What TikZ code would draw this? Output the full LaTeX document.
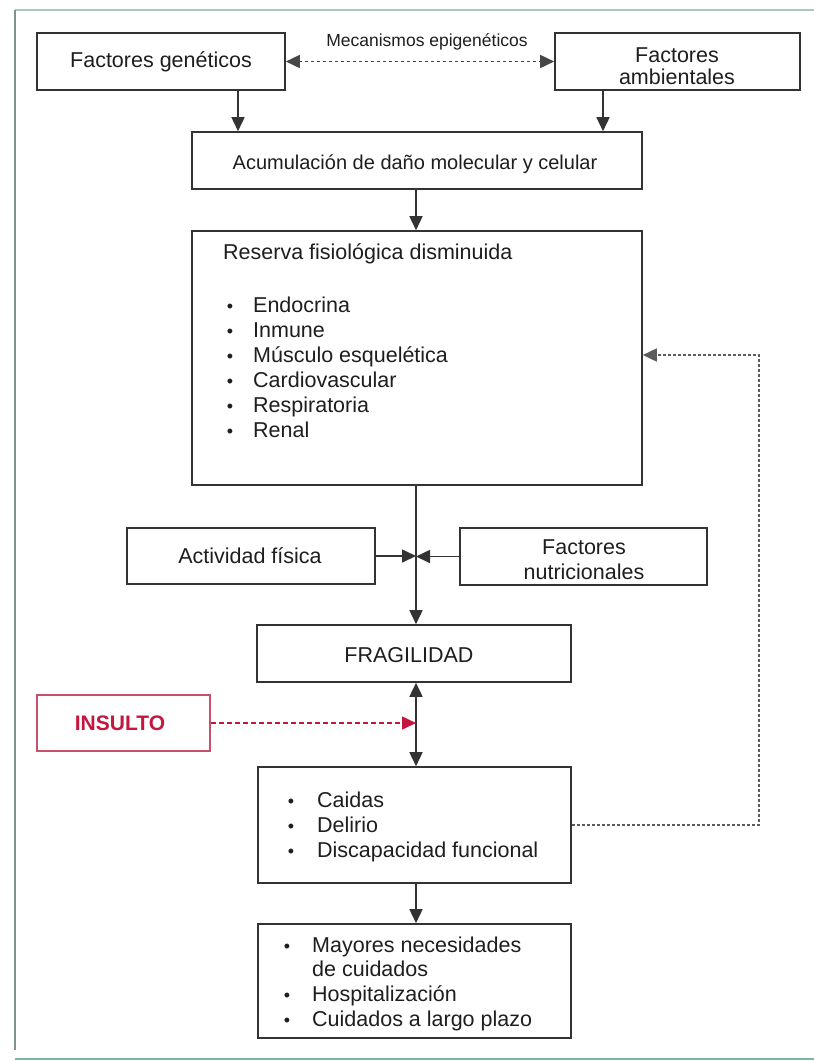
\documentclass[tikz,border=0pt]{standalone}
\usepackage{fontspec}
\setmainfont{Liberation Sans}
\usetikzlibrary{arrows.meta}
\definecolor{ink}{HTML}{1E1E1E}
\definecolor{boxline}{HTML}{333333}
\definecolor{insred}{HTML}{C4163E}
\definecolor{insborder}{HTML}{C8506A}
\definecolor{frametop}{HTML}{A9C9BD}
\definecolor{frameleft}{HTML}{7F938D}
\definecolor{framebot}{HTML}{80B5A3}
\tikzset{
  box/.style={draw=boxline, line width=1.6pt, inner sep=0pt, text=ink, align=center,
              font=\fontsize{21.5}{22}\selectfont},
  txt/.style={inner sep=0pt, text=ink, font=\fontsize{21.5}{25}\selectfont},
  bul/.style={inner sep=0pt, text=ink, anchor=base, font=\fontsize{18}{18}\selectfont},
  arr/.style={draw=boxline, line width=1.6pt, -{Triangle[length=14pt,width=13pt]}},
  arrboth/.style={draw=boxline, line width=1.6pt, {Triangle[length=14pt,width=13pt]}-{Triangle[length=14pt,width=13pt]}},
  dotarr/.style={draw=boxline!90, line width=1.6pt, dash pattern=on 3pt off 3pt,
                 {Triangle[length=14pt,width=13pt]}-{Triangle[length=14pt,width=13pt]}},
  fbarr/.style={draw=boxline!80, line width=1.6pt, dash pattern=on 3pt off 2pt,
                -{Triangle[length=14pt,width=13pt]}},
  insarr/.style={draw=insred, line width=1.5pt, dash pattern=on 5pt off 3pt,
                 -{Triangle[length=14pt,width=13pt]}},
}
\begin{document}
\begin{tikzpicture}[x=1pt,y=-1pt]
\useasboundingbox (0,0) rectangle (814,1061);
\fill[white] (0,0) rectangle (814,1061);
% outer frame
\draw[frametop, line width=1.8pt] (15,10) -- (814,10);
\draw[frameleft, line width=2pt] (15,10) -- (15,1050);
\draw[framebot, line width=2.5pt] (15,1059) -- (814,1059);

% boxes
\node[box, minimum width=248pt, minimum height=57pt] (gen) at (161,61.5) {};
\node[txt] (gentxt) at (161,62) {Factores genéticos};
\node[box, minimum width=245pt, minimum height=57pt] (amb) at (677.5,61.5) {};
\node[txt, align=center, font=\fontsize{21.5}{22}\selectfont] (ambtxt) at (677,66) {Factores\\ambientales};
\node[txt, font=\fontsize{17.5}{20}\selectfont] (mec) at (427,42) {Mecanismos epigenéticos};

\node[box, minimum width=450pt, minimum height=57pt] (acum) at (417,160.5) {};
\node[txt, font=\fontsize{20}{24}\selectfont] (acumtxt) at (415,164) {Acumulación de daño molecular y celular};

\node[box, minimum width=450pt, minimum height=254pt] (res) at (417,358) {};
\node[txt, anchor=west] (restit) at (223,254) {Reserva fisiológica disminuida};
\foreach \i/\t/\yy in {1/Endocrina/305, 2/Inmune/330, 3/Músculo esquelética/355,
                       4/Cardiovascular/380, 5/Respiratoria/405, 6/Renal/430}{
  \node[bul] (resb\i) at (230,\yy+7) {•};
  \node[txt, anchor=base west] (resi\i) at (253,\yy+7) {\t};
}

\node[box, minimum width=248pt, minimum height=56pt] (act) at (251,556) {};
\node[txt] (acttxt) at (250,556) {Actividad física};
\node[box, minimum width=247pt, minimum height=57pt] (nut) at (583.5,556.5) {};
\node[txt, align=center] (nuttxt) at (584,560) {Factores\\nutricionales};

\node[box, minimum width=314pt, minimum height=57pt] (frag) at (414,653.5) {};
\node[txt] (fragtxt) at (409,655) {FRAGILIDAD};

\node[draw=insborder, line width=1.5pt, minimum width=173pt, minimum height=56pt, inner sep=0pt] (ins) at (123.5,723) {};
\node[txt, text=insred, font=\fontsize{21}{24}\selectfont\bfseries] (instxt) at (120,723) {INSULTO};

\node[box, minimum width=313pt, minimum height=116pt] (cai) at (414.5,825) {};
\foreach \i/\t/\yy in {1/Caidas/800, 2/Delirio/825, 3/Discapacidad funcional/850}{
  \node[bul] (caib\i) at (291,\yy+7) {•};
  \node[txt, anchor=base west] (caii\i) at (317,\yy+7) {\t};
}

\node[box, minimum width=313pt, minimum height=114pt] (may) at (414.5,981) {};
\foreach \i/\t/\yy in {1/Mayores necesidades/945, 3/Hospitalización/994, 4/Cuidados a largo plazo/1019}{
  \node[bul] (mayb\i) at (287,\yy+7) {•};
  \node[txt, anchor=base west] (mayi\i) at (312,\yy+7) {\t};
}
\node[txt, anchor=base west] (mayi2) at (312,976) {de cuidados};

% spine coordinate
\coordinate (sp) at (416,0);
\coordinate (fbR) at (759,355);

% connectors
\draw[dotarr] (gen.east) -- (amb.west);
\draw[arr] ([xshift=77pt]gen.south) -- ([xshift=77pt]gen.south |- acum.north);
\draw[arr] ([xshift=-74.5pt]amb.south) -- ([xshift=-74.5pt]amb.south |- acum.north);
\draw[arr] (acum.south -| sp) -- (res.north -| sp);
\draw[arr] (res.south -| sp) -- (frag.north -| sp);
\draw[arr] (act.east) -- (act.east -| sp);
\draw[arr] (nut.west) -- (nut.west -| sp);
\draw[arrboth] (frag.south -| sp) -- (cai.north -| sp);
\draw[insarr] (ins.east) -- (ins.east -| sp);
\draw[arr] (cai.south -| sp) -- (may.north -| sp);
\draw[fbarr] (cai.east) -| (fbR) -- (fbR -| res.east);
\end{tikzpicture}
\end{document}
